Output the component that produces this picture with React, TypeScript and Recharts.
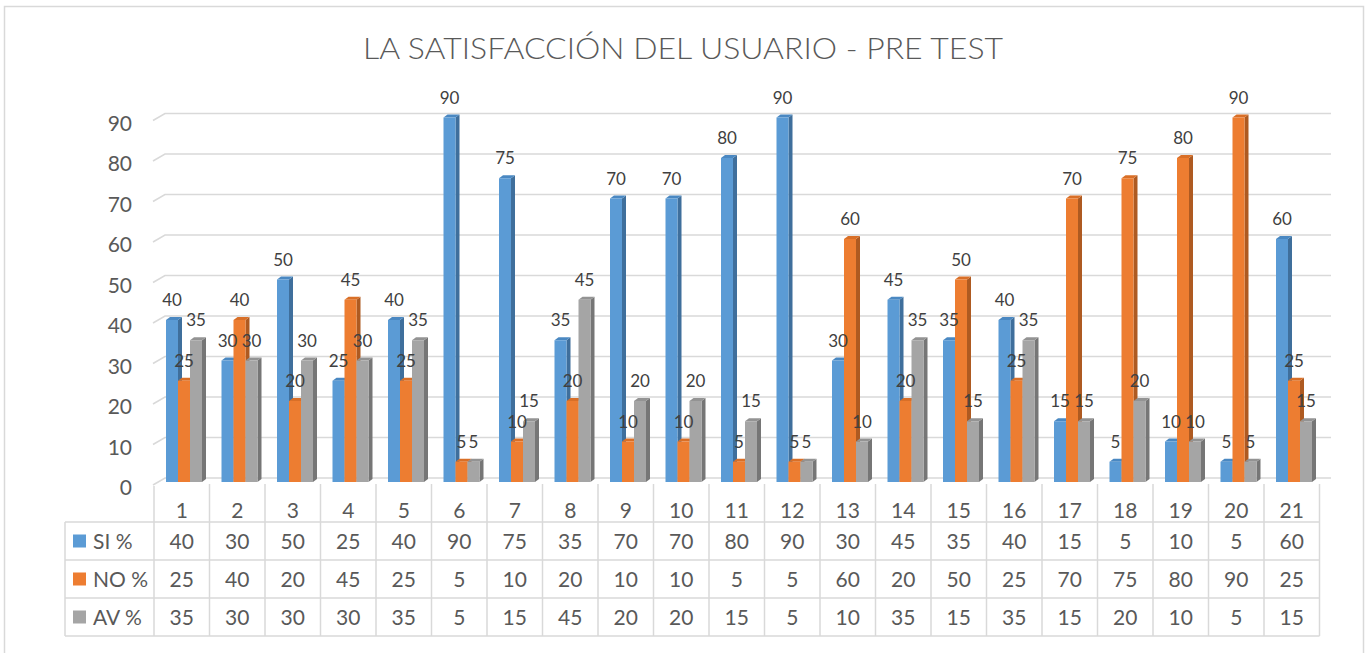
import React from 'react';
import { BarChart, Bar, XAxis, YAxis, CartesianGrid, LabelList } from 'recharts';

const categories = ['1', '2', '3', '4', '5', '6', '7', '8', '9', '10', '11', '12', '13', '14', '15', '16', '17', '18', '19', '20', '21'];
const siValues = [40, 30, 50, 25, 40, 90, 75, 35, 70, 70, 80, 90, 30, 45, 35, 40, 15, 5, 10, 5, 60];
const noValues = [25, 40, 20, 45, 25, 5, 10, 20, 10, 10, 5, 5, 60, 20, 50, 25, 70, 75, 80, 90, 25];
const avValues = [35, 30, 30, 30, 35, 5, 15, 45, 20, 20, 15, 5, 10, 35, 15, 35, 15, 20, 10, 5, 15];
const yTicks = [0, 10, 20, 30, 40, 50, 60, 70, 80, 90];
const seriesNames = ['SI %', 'NO %', 'AV %'];

const data = categories.map((c, i) => ({ name: c, si: siValues[i], no: noValues[i], av: avValues[i] }));

const FONT = 'Lato, "Open Sans", sans-serif';
const TEXT = '#595959';
const LINE = '#d9d9d9';

const series = [
  { key: 'si', name: seriesNames[0], values: siValues, front: '#5b9bd5', side: '#3f6f9c', top: '#4a88c2' },
  { key: 'no', name: seriesNames[1], values: noValues, front: '#ed7d31', side: '#ae5a21', top: '#d96f27' },
  { key: 'av', name: seriesNames[2], values: avValues, front: '#a5a5a5', side: '#767676', top: '#939393' },
];

const BAND = 55.5;
const SHIFT = 2;
const TABLE_LEFT = 65;
const HEADER_TOP = 484;
const ROW_LINES = [522, 560, 598, 636];

// front face + darker side and top to fake the excel 3d columns
function Bar3D(props: any) {
  const { x, y, width, height, front, side, top } = props;
  if (!height || height <= 0) return null;
  const bx = x + SHIFT;
  const d = 4;
  const e = 3;
  return (
    <g>
      <polygon
        points={`${bx + width},${y} ${bx + width + d},${y - e} ${bx + width + d},${y + height - e} ${bx + width},${y + height}`}
        fill={side}
      />
      <polygon points={`${bx},${y} ${bx + d},${y - e} ${bx + width + d},${y - e} ${bx + width},${y}`} fill={top} />
      <rect x={bx} y={y} width={width} height={height} fill={front} />
    </g>
  );
}

const renderValue = (props: any) => {
  const { x, y, width, value } = props;
  return (
    <text x={x + SHIFT + width / 2} y={y - 14} textAnchor="middle" fontSize={17} fill="#404040" fontFamily={FONT}>
      {value}
    </text>
  );
};

// category label + data table column under each category
function TableTick(props: any) {
  const { x, payload } = props;
  const i = payload && payload.index != null ? payload.index : props.index;
  const left = x - BAND / 2;
  const right = x + BAND / 2;
  const tableRight = left + categories.length * BAND;
  return (
    <g>
      {i === 0 && (
        <g>
          <line x1={left} y1={HEADER_TOP + 2} x2={left} y2={ROW_LINES[3]} stroke={LINE} strokeWidth={1.5} />
          <line x1={TABLE_LEFT} y1={ROW_LINES[0]} x2={TABLE_LEFT} y2={ROW_LINES[3]} stroke={LINE} strokeWidth={1.5} />
          {ROW_LINES.map((ly) => (
            <line key={ly} x1={TABLE_LEFT} y1={ly} x2={tableRight} y2={ly} stroke={LINE} strokeWidth={1.5} />
          ))}
          {series.map((s, r) => {
            const cy = (ROW_LINES[r] + ROW_LINES[r + 1]) / 2;
            return (
              <g key={s.key}>
                <rect x={73} y={cy - 6.5} width={13} height={13} fill={s.front} />
                <text x={93} y={cy + 7.5} fontSize={21} fill={TEXT} fontFamily={FONT}>
                  {s.name}
                </text>
              </g>
            );
          })}
        </g>
      )}
      <line x1={right} y1={HEADER_TOP} x2={right} y2={ROW_LINES[3]} stroke={LINE} strokeWidth={1.5} />
      <text x={x} y={517.5} textAnchor="middle" fontSize={21} fill={TEXT} fontFamily={FONT}>
        {categories[i]}
      </text>
      {series.map((s, r) => {
        const cy = (ROW_LINES[r] + ROW_LINES[r + 1]) / 2;
        return (
          <text key={s.key} x={x} y={cy + 7.5} textAnchor="middle" fontSize={21} fill={TEXT} fontFamily={FONT}>
            {s.values[i]}
          </text>
        );
      })}
    </g>
  );
}

export default function App() {
  return (
    <div style={{ position: 'absolute', left: 0, top: 0, width: 1370, height: 653, background: '#fff' }}>
      <BarChart
        width={1370}
        height={653}
        data={data}
        margin={{ top: 117.5, right: 50.5, left: 114, bottom: 21 }}
        barGap={0}
        barSize={12}
      >
        <CartesianGrid
          vertical={false}
          horizontal={(p: any) => (
            <path
              key={`grid-${p.index}-${p.y1}`}
              d={`M${p.x1 - 1},${p.y1 + 3} L${p.x1 + 11},${p.y1 - 4} L${p.x2 + 11.5},${p.y1 - 4}`}
              stroke={LINE}
              strokeWidth={1.5}
              fill="none"
            />
          )}
        />
        <XAxis dataKey="name" height={150} axisLine={false} tickLine={false} interval={0} tick={<TableTick />} />
        <YAxis
          width={40}
          domain={[0, 90]}
          ticks={yTicks}
          axisLine={false}
          tickLine={false}
          interval={0}
          tick={(p: any) => (
            <text x={132} y={p.y + 13} textAnchor="end" fontSize={21} fill={TEXT} fontFamily={FONT}>
              {p.payload.value}
            </text>
          )}
        />
        {series.map((s) => (
          <Bar
            key={s.key}
            dataKey={s.key}
            name={s.name}
            fill={s.front}
            isAnimationActive={false}
            shape={(p: any) => <Bar3D {...p} front={s.front} side={s.side} top={s.top} />}
          >
            <LabelList dataKey={s.key} content={renderValue} />
          </Bar>
        ))}
      </BarChart>
      <svg width={1370} height={653} style={{ position: 'absolute', left: 0, top: 0, pointerEvents: 'none' }}>
        <rect x={4.5} y={6.5} width={1359} height={660} fill="none" stroke={LINE} strokeWidth={1.5} />
        <text
          x={683}
          y={59}
          textAnchor="middle"
          fontSize={29}
          fontWeight={300}
          fill={TEXT}
          fontFamily={FONT}
          textLength={640}
          lengthAdjust="spacingAndGlyphs"
        >
          LA SATISFACCIÓN DEL USUARIO - PRE TEST
        </text>
      </svg>
    </div>
  );
}
